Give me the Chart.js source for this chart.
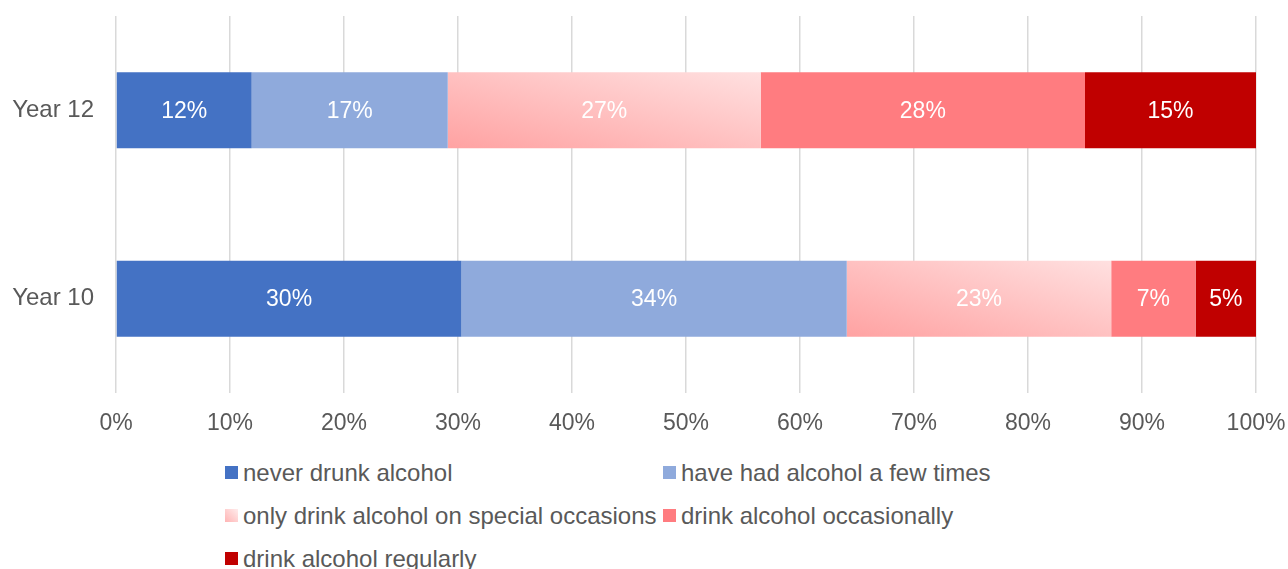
<!DOCTYPE html>
<html>
<head>
<meta charset="utf-8">
<script src="https://cdn.jsdelivr.net/npm/chart.js@4/dist/chart.umd.min.js"></script>
<style>
    body { margin: 0; background: #fff; font-family: "Liberation Sans", Arial, sans-serif; }
    #wrap { position: relative; width: 1288px; height: 569px; overflow: hidden; }
    #box { position: absolute; left: 0; top: 0; width: 1288px; height: 445px; }
    #legend { position: absolute; left: 225px; top: 451px; width: 1000px; display: grid; grid-template-columns: 438px 438px; }
    .item { display: flex; align-items: center; height: 43px; font-size: 24px; color: #595959; white-space: nowrap; }
    .sw { width: 13px; height: 13px; margin-right: 5px; flex: none; }
</style>
</head>
<body>
<div id="wrap">
    <div id="box"><canvas id="grafico"></canvas></div>
    <div id="legend"></div>
</div>
<script>
// categorias e valores (%)
const categorias = ["Year 12", "Year 10"];
const nuncaBebeu = [11.9, 30.3];
const poucasVezes = [17.2, 33.8];
const ocasioesEspeciais = [27.45, 23.2];
const ocasionalmente = [28.45, 7.4];
const regularmente = [15.0, 5.3];
const ticksX = [0, 10, 20, 30, 40, 50, 60, 70, 80, 90, 100];

const nomes = [
    "never drunk alcohol",
    "have had alcohol a few times",
    "only drink alcohol on special occasions",
    "drink alcohol occasionally",
    "drink alcohol regularly"
];
const series = [nuncaBebeu, poucasVezes, ocasioesEspeciais, ocasionalmente, regularmente];
const cores = ["#4472c4", "#8faadc", null, "#ff7c80", "#c00000"];

// gradiente da serie "special occasions" (mais escuro embaixo a esquerda)
function gradienteRosa(ctx) {
    const chart = ctx.chart;
    if (!chart.chartArea || ctx.type !== "data") return "#ffc4c4";
    const i = ctx.dataIndex;
    let inicio = 0;
    for (let s = 0; s < ctx.datasetIndex; s++) inicio += series[s][i];
    const fim = inicio + series[ctx.datasetIndex][i];
    const x0 = chart.scales.x.getPixelForValue(inicio);
    const x1 = chart.scales.x.getPixelForValue(fim);
    const yc = chart.scales.y.getPixelForValue(i);
    const h = 76, w = x1 - x0;
    const y1 = yc + h / 2;
    const L2 = w * w + h * h;
    const k = 2 * w * h / L2;
    const g = chart.ctx.createLinearGradient(x0, y1, x0 + h * k, y1 - w * k);
    g.addColorStop(0, "#ffa2a2");
    g.addColorStop(1, "#ffe0e0");
    return g;
}

const rotulos = {
    id: "rotulos",
    afterDatasetsDraw(chart) {
        const ctx = chart.ctx;
        ctx.save();
        ctx.font = '23px "Liberation Sans", Arial, sans-serif';
        ctx.fillStyle = "#ffffff";
        ctx.textAlign = "center";
        ctx.textBaseline = "middle";
        chart.data.datasets.forEach((ds, d) => {
            chart.getDatasetMeta(d).data.forEach((bar, i) => {
                const xm = (bar.x + bar.base) / 2;
                ctx.fillText(Math.round(ds.data[i]) + "%", xm, bar.y + 1);
            });
        });
        ctx.restore();
    }
};

const grafico = new Chart(document.getElementById("grafico"), {
    type: "bar",
    data: {
        labels: categorias,
        datasets: series.map((dados, s) => ({
            label: nomes[s],
            data: dados,
            backgroundColor: s === 2 ? gradienteRosa : cores[s],
            borderWidth: 0,
            categoryPercentage: 1,
            barPercentage: 0.403
        }))
    },
    options: {
        indexAxis: "y",
        responsive: true,
        maintainAspectRatio: false,
        animation: false,
        layout: { padding: { top: 16, right: 32, left: 0, bottom: 0 } },
        scales: {
            x: {
                stacked: true,
                min: 0,
                max: 100,
                afterBuildTicks: scale => { scale.ticks = ticksX.map(v => ({ value: v })) },
                afterFit: scale => {
                    scale.height = 52
                    scale.paddingLeft = 0
                    scale.paddingRight = 0
                },
                grid: { color: "#d9d9d9", lineWidth: 1.5, drawTicks: false },
                border: { display: false },
                ticks: {
                    padding: 17,
                    color: "#595959",
                    font: { family: '"Liberation Sans", Arial, sans-serif', size: 23 },
                    callback: v => v + "%"
                }
            },
            y: {
                stacked: true,
                afterFit: scale => {
                    scale.width = 116
                    scale.paddingTop = 0
                    scale.paddingBottom = 0
                },
                grid: { display: false, drawTicks: false },
                border: { display: false },
                ticks: {
                    padding: 22,
                    color: "#595959",
                    font: { family: '"Liberation Sans", Arial, sans-serif', size: 24 }
                }
            }
        },
        plugins: {
            legend: { display: false },
            tooltip: { enabled: false }
        }
    },
    plugins: [rotulos]
});

// legenda em html
const legenda = document.getElementById("legend");
nomes.forEach((nome, s) => {
    const item = document.createElement("div");
    item.className = "item";
    const sw = document.createElement("span");
    sw.className = "sw";
    sw.style.background = s === 2 ? "linear-gradient(to top right, #ffb4b4, #ffecec)" : cores[s];
    const txt = document.createElement("span");
    txt.innerText = nome;
    item.appendChild(sw);
    item.appendChild(txt);
    legenda.appendChild(item);
});
</script>
</body>
</html>
